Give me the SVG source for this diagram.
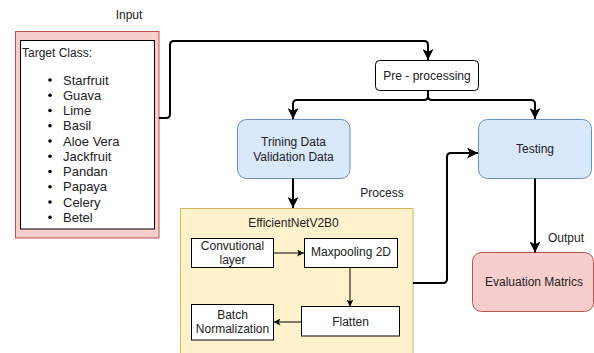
<svg xmlns="http://www.w3.org/2000/svg" width="594" height="353" viewBox="0 0 594 353">
<defs>
<style>
text{font-family:"Liberation Sans",Arial,sans-serif;font-size:12px;fill:#222}
.c{text-anchor:middle}
.li{font-size:13px}
.box{fill:#fff;stroke:#000;stroke-width:1}
.blue{fill:#dae8fc;stroke:#6c8ebf;stroke-width:1}
.main{fill:none;stroke:#000;stroke-width:2}
.thin{fill:none;stroke:#000;stroke-width:1}
</style>
<marker id="ab" viewBox="0 0 10 10" refX="10" refY="5" markerWidth="11" markerHeight="11" markerUnits="userSpaceOnUse" orient="auto">
<path d="M0,0 L10,5 L0,10 L2.5,5 z" fill="#000"/>
</marker>
<marker id="as" viewBox="0 0 10 10" refX="10" refY="5" markerWidth="7" markerHeight="7" markerUnits="userSpaceOnUse" orient="auto">
<path d="M0,0 L10,5 L0,10 L2.5,5 z" fill="#000"/>
</marker>
</defs>
<rect width="594" height="353" fill="#fff"/>

<g id="input">
<text class="c" x="129" y="19">Input</text>
<rect x="15.5" y="31.5" width="143.5" height="206.5" fill="#f8cecc" stroke="#b85450"/>
<rect x="20.5" y="40.5" width="134" height="188.5" class="box"/>
<text x="22" y="57">Target Class:</text>
<g class="li">
<circle cx="50" cy="80" r="1.8" fill="#000"/><text class="li" x="63" y="84.5">Starfruit</text>
<circle cx="50" cy="95.3" r="1.8" fill="#000"/><text class="li" x="63" y="99.8">Guava</text>
<circle cx="50" cy="110.5" r="1.8" fill="#000"/><text class="li" x="63" y="115">Lime</text>
<circle cx="50" cy="125.8" r="1.8" fill="#000"/><text class="li" x="63" y="130.3">Basil</text>
<circle cx="50" cy="141" r="1.8" fill="#000"/><text class="li" x="63" y="145.5">Aloe Vera</text>
<circle cx="50" cy="156.3" r="1.8" fill="#000"/><text class="li" x="63" y="160.8">Jackfruit</text>
<circle cx="50" cy="171.5" r="1.8" fill="#000"/><text class="li" x="63" y="176">Pandan</text>
<circle cx="50" cy="186.8" r="1.8" fill="#000"/><text class="li" x="63" y="191.3">Papaya</text>
<circle cx="50" cy="202" r="1.8" fill="#000"/><text class="li" x="63" y="206.5">Celery</text>
<circle cx="50" cy="217.3" r="1.8" fill="#000"/><text class="li" x="63" y="221.8">Betel</text>
</g>
</g>

<g id="preprocessing">
<rect x="375.5" y="60.5" width="103" height="30" rx="4" class="box"/>
<text class="c" x="427" y="79.5">Pre - processing</text>
</g>

<g id="training">
<rect x="237.5" y="119.5" width="112.5" height="59" rx="9" class="blue"/>
<text class="c" x="293.5" y="146">Trining Data</text>
<text class="c" x="293.5" y="161">Validation Data</text>
</g>

<g id="testing">
<rect x="478.5" y="119.5" width="113" height="59" rx="9" class="blue"/>
<text class="c" x="535" y="152.5">Testing</text>
</g>

<g id="process">
<text class="c" x="382" y="197">Process</text>
<rect x="180.5" y="208.5" width="232.5" height="150" fill="#fff2cc" stroke="#d6b656"/>
<text class="c" x="293.5" y="227">EfficientNetV2B0</text>
</g>

<g id="conv">
<rect x="191.5" y="238.5" width="82" height="29" class="box"/>
<text class="c" x="232.5" y="249.5">Convutional</text>
<text class="c" x="232.5" y="263.5">layer</text>
</g>

<g id="maxpool">
<rect x="304.5" y="238.5" width="93" height="29" class="box"/>
<text class="c" x="351" y="256">Maxpooling 2D</text>
</g>

<g id="flatten">
<rect x="301.5" y="306.5" width="98" height="29.5" class="box"/>
<text class="c" x="350.5" y="326">Flatten</text>
</g>

<g id="batchnorm">
<rect x="191.5" y="304.5" width="82" height="35.5" class="box"/>
<text class="c" x="232.5" y="318.5">Batch</text>
<text class="c" x="232.5" y="333">Normalization</text>
</g>

<g id="evaluation">
<text class="c" x="566" y="241.5">Output</text>
<rect x="472.5" y="252.5" width="121" height="59" rx="9" fill="#f8cecc" stroke="#b85450"/>
<text class="c" x="534" y="286">Evaluation Matrics</text>
</g>

<g id="connectors">
<path class="main" d="M159,118 H166 Q170,118 170,114 V45 Q170,41 174,41 H424 Q428,41 428,45 V60" marker-end="url(#ab)"/>
<path class="main" d="M428,90.5 V96 Q428,100 424,100 H297 Q293,100 293,104 V119" marker-end="url(#ab)"/>
<path class="main" d="M428,90.5 V96 Q428,100 432,100 H531 Q535,100 535,104 V119" marker-end="url(#ab)"/>
<path class="main" d="M293,178.5 V208" marker-end="url(#ab)"/>
<path class="main" d="M413,283 H443 Q447,283 447,279 V157 Q447,153 451,153 H478" marker-end="url(#ab)"/>
<path class="main" d="M535,178.5 V252.5" marker-end="url(#ab)"/>
<path class="thin" d="M273.5,253 H304" marker-end="url(#as)"/>
<path class="thin" d="M350,267.5 V306.5" marker-end="url(#as)"/>
<path class="thin" d="M301.5,322 H273.5" marker-end="url(#as)"/>
</g>
</svg>
